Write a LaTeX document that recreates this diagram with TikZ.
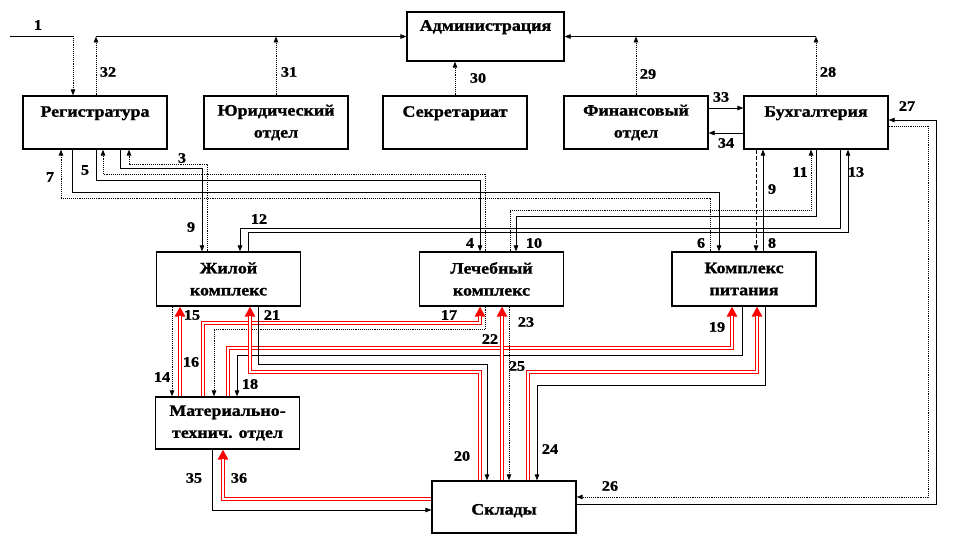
\documentclass[tikz,border=0pt]{standalone}
\usepackage{fontspec}
\setmainfont{Liberation Serif}[FakeStretch=1.12, FakeBold=1.2]
\usetikzlibrary{arrows.meta}

\tikzset{
  unit/.style={draw, line width=1.2pt, align=center, inner sep=0pt,
    font=\fontsize{16}{22}\selectfont\bfseries,
    minimum width=144pt, minimum height=53pt,
    execute at begin node={\rule{0pt}{18pt}}},
  num/.style={font=\fontsize{14.5}{16}\selectfont\bfseries, inner sep=0pt},
  flow/.style={-{Triangle[length=6pt,width=4.5pt]}, line width=0.7pt},
  doc/.style={-{Triangle[length=6pt,width=4.5pt]}, line width=0.9pt, densely dotted},
  dashflow/.style={-{Triangle[length=6pt,width=4.5pt]}, line width=0.9pt, dash pattern=on 4pt off 2pt},
  mat/.style={-{Triangle[length=10pt,width=10pt]}, draw=red, line width=3.4pt,
    postaction={draw=white, line width=1.2pt, -, shorten >=9pt}}
}

\begin{document}
\begin{tikzpicture}[x=1pt, y=-1pt]
\useasboundingbox (0,0) rectangle (972,540);

\node[unit, minimum width=157pt, minimum height=49pt] (adm) at (485.5,36.5) {Администрация\\\mbox{}};
\node[unit] (reg) at (95,122.5) {Регистратура\\\mbox{}};
\node[unit] (jur) at (276,122.5) {Юридический\\отдел};
\node[unit] (sec) at (455,122.5) {Секретариат\\\mbox{}};
\node[unit] (fin) at (636,122.5) {Финансовый\\отдел};
\node[unit] (buh) at (816,122.5) {Бухгалтерия\\\mbox{}};
\node[unit, minimum height=54pt] (zhil) at (228.5,279) {Жилой\\комплекс};
\node[unit, minimum height=54pt] (lech) at (491.5,279) {Лечебный\\комплекс};
\node[unit, minimum height=54pt] (pit) at (744,279) {Комплекс\\питания};
\node[unit, minimum height=52pt] (mto) at (227.5,423) {Материально-\\технич. отдел};
\node[unit, minimum height=52pt, execute at begin node={}] (skl) at (504,507) {Склады};

\coordinate (in1) at (10,36);
\coordinate (c1) at (73,36);
\draw[line width=0.7pt] (in1) -- (c1);
\draw[doc] (c1) -- (c1 |- reg.north);
\draw[doc] (96,0 |- reg.north) -- (96,36.5);
\draw[flow] (96,0 |- adm.west) -- (adm.west);
\draw[doc] (jur.north) -- (jur.north |- adm.west);
\draw[doc] (sec.north) -- (sec.north |- adm.south);
\draw[flow] (816,0 |- adm.east) -- (adm.east);
\draw[doc] (fin.north) -- (fin.north |- adm.east);
\draw[doc] (buh.north) -- (buh.north |- adm.east);
\draw[flow] (fin.east |- 0,108) -- (buh.west |- 0,108);
\draw[flow] (buh.west |- 0,133) -- (fin.east |- 0,133);

\draw[flow] (120,0 |- reg.south) -- (120,168) -- (202,168) -- (202,0 |- zhil.north);
\draw[doc] (207,0 |- zhil.north) -- (207,164) -- (129,164) -- (129,0 |- reg.south);
\draw[flow] (96,0 |- reg.south) -- (96,180) -- (480,180) -- (480,0 |- lech.north);
\draw[doc] (485,0 |- lech.north) -- (485,174) -- (103,174) -- (103,0 |- reg.south);
\draw[flow] (72,0 |- reg.south) -- (72,192) -- (719,192) -- (719,0 |- pit.north);
\draw[doc] (710,0 |- pit.north) -- (710,198) -- (61,198) -- (61,0 |- reg.south);

\draw[dashflow] (756,0 |- buh.south) -- (756,0 |- pit.north);
\draw[flow] (763,0 |- pit.north) -- (763,0 |- buh.south);
\draw[flow] (816,0 |- buh.south) -- (816,216) -- (516,216) -- (516,0 |- lech.north);
\draw[doc] (510,0 |- lech.north) -- (510,210) -- (811,210) -- (811,0 |- buh.south);
\draw[flow] (840,0 |- buh.south) -- (840,228) -- (240,228) -- (240,0 |- zhil.north);
\draw[flow] (248,0 |- zhil.north) -- (248,232) -- (848,232) -- (848,0 |- buh.south);

\draw[flow] (skl.east |- 0,504) -- (936,504) -- (936,120) -- (buh.east |- 0,120);
\draw[doc] (buh.east |- 0,126) -- (928,126) -- (928,497) -- (skl.east |- 0,497);

\draw[doc] (172,0 |- zhil.south) -- (172,0 |- mto.north);
\draw[mat] (180,0 |- mto.north) -- (180,0 |- zhil.south);
\draw[mat] (203,0 |- mto.north) -- (203,323) -- (480,323) -- (480,0 |- lech.south);
\draw[doc] (485,0 |- lech.south) -- (485,329) -- (214,329) -- (214,0 |- mto.north);
\draw[mat] (228,0 |- mto.north) -- (228,348) -- (732,348) -- (732,0 |- pit.south);
\draw[flow] (742,0 |- pit.south) -- (742,355) -- (237,355) -- (237,0 |- mto.north);
\draw[mat] (480,0 |- skl.north) -- (480,372) -- (250,372) -- (250,0 |- zhil.south);
\draw[flow] (258,0 |- zhil.south) -- (258,364) -- (487,364) -- (487,0 |- skl.north);
\draw[mat] (502,0 |- skl.north) -- (502,0 |- lech.south);
\draw[doc] (509,0 |- lech.south) -- (509,0 |- skl.north);
\draw[mat] (528,0 |- skl.north) -- (528,372) -- (757,372) -- (757,0 |- pit.south);
\draw[flow] (765,0 |- pit.south) -- (765,385) -- (537,385) -- (537,0 |- skl.north);
\draw[flow] (212,0 |- mto.south) -- (212,510) -- (skl.west |- 0,510);
\draw[mat] (skl.west |- 0,499) -- (223,499) -- (223,0 |- mto.south);

\node[num] (n1) at (38,25) {1};
\node[num] (n32) at (108,72) {32};
\node[num] (n31) at (289,72) {31};
\node[num] (n30) at (478,78) {30};
\node[num] (n29) at (648,74) {29};
\node[num] (n28) at (828,72) {28};
\node[num] (n33) at (721,97) {33};
\node[num] (n34) at (726,143) {34};
\node[num] (n27) at (907,106) {27};
\node[num] (n3) at (182,158) {3};
\node[num] (n5) at (85,170) {5};
\node[num] (n7) at (50,177) {7};
\node[num] (n9a) at (191,227) {9};
\node[num] (n12) at (259,219) {12};
\node[num] (n4) at (470,243) {4};
\node[num] (n10) at (534,243) {10};
\node[num] (n6) at (701,243) {6};
\node[num] (n8) at (772,243) {8};
\node[num] (n9b) at (772,189) {9};
\node[num] (n11) at (800,172) {11};
\node[num] (n13) at (856,172) {13};
\node[num] (n15) at (192,315) {15};
\node[num] (n21) at (272,315) {21};
\node[num] (n17) at (449,315) {17};
\node[num] (n16) at (191,362) {16};
\node[num] (n14) at (162,377) {14};
\node[num] (n18) at (250,384) {18};
\node[num] (n22) at (490,339) {22};
\node[num] (n23) at (526,322) {23};
\node[num] (n25) at (517,366) {25};
\node[num] (n19) at (717,327) {19};
\node[num] (n20) at (462,456) {20};
\node[num] (n24) at (550,449) {24};
\node[num] (n26) at (610,486) {26};
\node[num] (n35) at (194,478) {35};
\node[num] (n36) at (239,478) {36};
\end{tikzpicture}
\end{document}
